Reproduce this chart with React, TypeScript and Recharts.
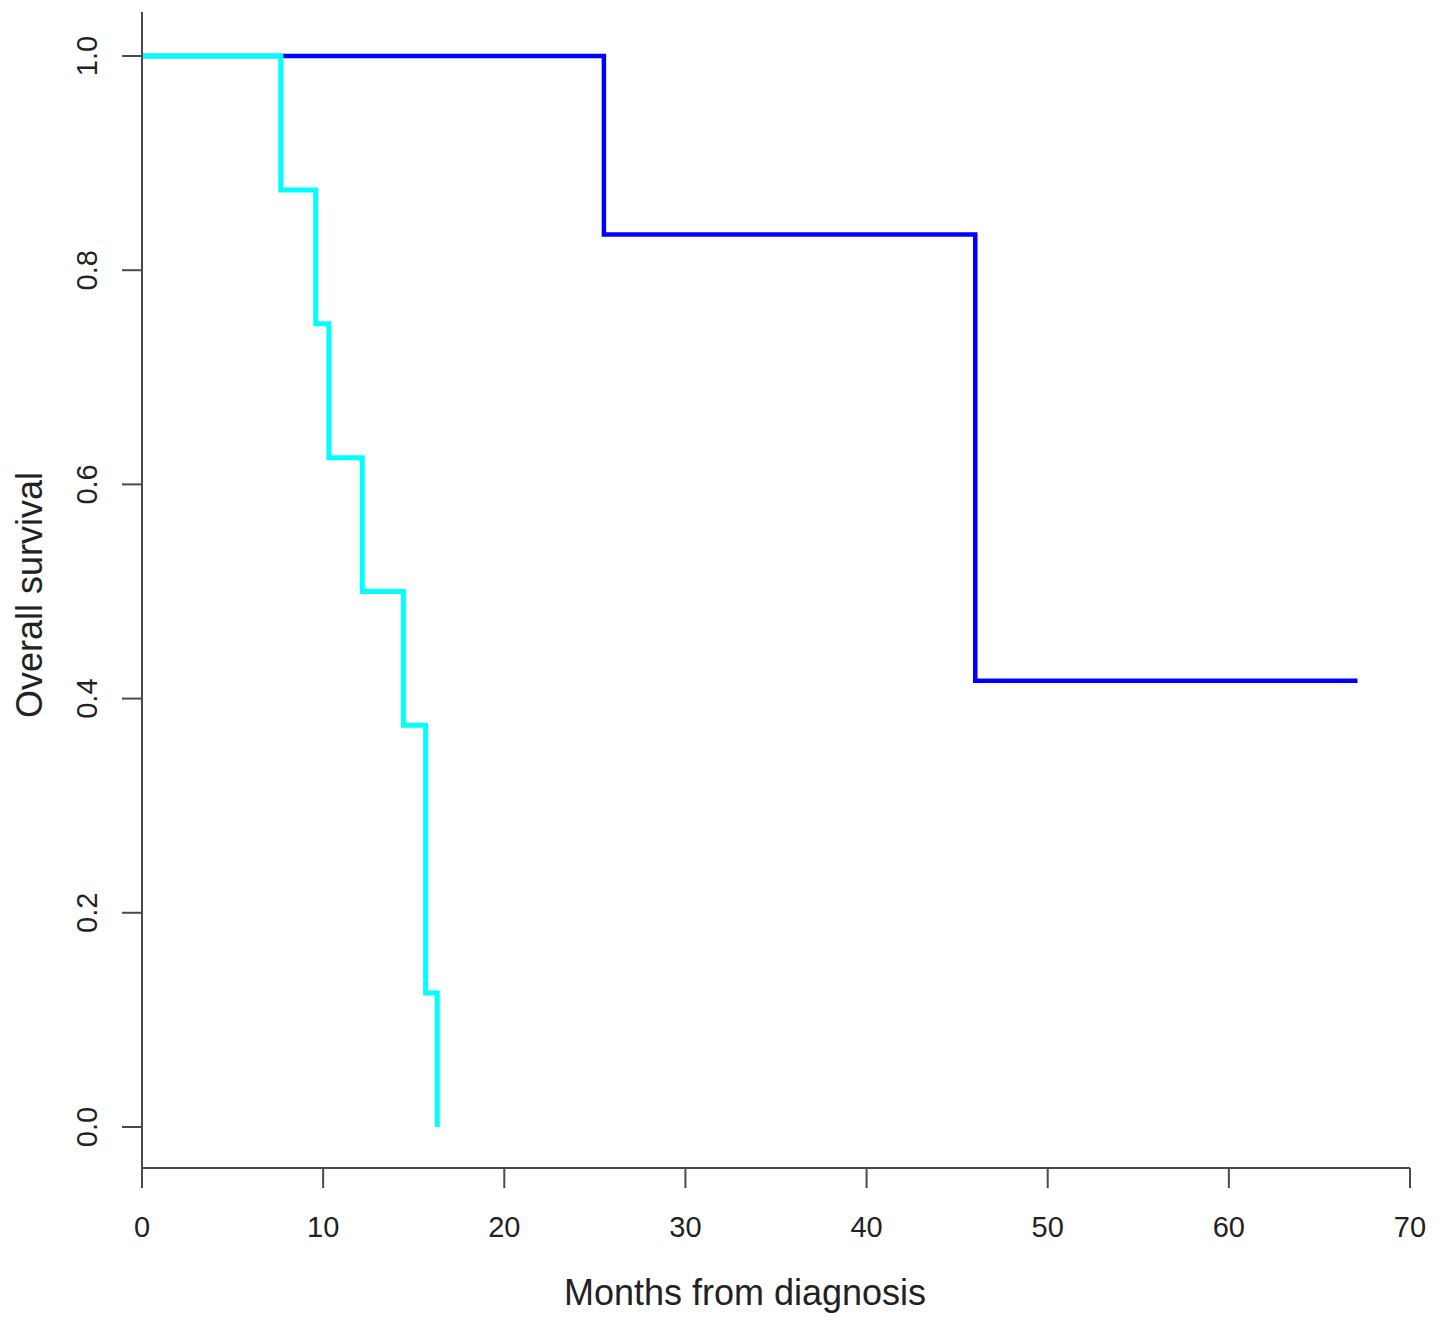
import React from "react";
import { LineChart, Line, XAxis, YAxis, Label } from "recharts";

// Kaplan-Meier style survival curves (two groups)
const blueTimes = [0, 25.5, 46.0, 67.1];
const blueSurv = [1, 0.8333, 0.4167, 0.4167];

const cyanTimes = [0, 7.66, 9.59, 10.32, 12.16, 14.43, 15.66, 16.3];
const cyanSurv = [1, 0.875, 0.75, 0.625, 0.5, 0.375, 0.125, 0];

const xTicks = [0, 10, 20, 30, 40, 50, 60, 70];
const yTicks = [0, 0.2, 0.4, 0.6, 0.8, 1.0];

const blueData = blueTimes.map((t, i) => ({ time: t, surv: blueSurv[i] }));
const cyanData = cyanTimes.map((t, i) => ({ time: t, surv: cyanSurv[i] }));

const FONT = "'Liberation Sans', Arial, Helvetica, sans-serif";
const AXIS = "#4a4a4a";

const XTick = (props: any) => {
  const { x, payload } = props;
  return (
    <text x={x} y={1237} textAnchor="middle" fontFamily={FONT} fontSize={29} fill="#222">
      {payload.value}
    </text>
  );
};

const YTick = (props: any) => {
  const { y, payload } = props;
  const tx = 97;
  return (
    <text
      x={tx}
      y={y}
      transform={`rotate(-90, ${tx}, ${y})`}
      textAnchor="middle"
      fontFamily={FONT}
      fontSize={29}
      fill="#222"
    >
      {Number(payload.value).toFixed(1)}
    </text>
  );
};

export default function App() {
  return (
    <div style={{ position: "absolute", left: 0, top: 0, background: "#fff" }}>
      <LineChart
        width={1441}
        height={1328}
        margin={{ top: 12, right: 31, left: 0, bottom: 0 }}
      >
        <XAxis
          type="number"
          dataKey="time"
          domain={[0, 70]}
          ticks={xTicks}
          height={160}
          axisLine={{ stroke: AXIS, strokeWidth: 2 }}
          tickLine={{ stroke: AXIS, strokeWidth: 2 }}
          tickSize={20}
          tick={<XTick />}
          allowDataOverflow
        >
          <Label
            content={() => (
              <text x={745} y={1305} textAnchor="middle" fontFamily={FONT} fontSize={36} fill="#222">
                Months from diagnosis
              </text>
            )}
          />
        </XAxis>
        <YAxis
          type="number"
          domain={[-0.0383, 1.0411]}
          ticks={yTicks}
          width={142}
          axisLine={{ stroke: AXIS, strokeWidth: 2 }}
          tickLine={{ stroke: AXIS, strokeWidth: 2 }}
          tickSize={20}
          tick={<YTick />}
          allowDataOverflow
        >
          <Label
            content={() => (
              <text
                x={42}
                y={595}
                transform="rotate(-90, 42, 595)"
                textAnchor="middle"
                fontFamily={FONT}
                fontSize={36}
                fill="#222"
              >
                Overall survival
              </text>
            )}
          />
        </YAxis>
        <Line
          data={blueData}
          dataKey="surv"
          type="stepAfter"
          stroke="#0000FF"
          strokeWidth={4.5}
          dot={false}
          activeDot={false}
          isAnimationActive={false}
        />
        <Line
          data={cyanData}
          dataKey="surv"
          type="stepAfter"
          stroke="#00FFFF"
          strokeWidth={5}
          dot={false}
          activeDot={false}
          isAnimationActive={false}
        />
      </LineChart>
    </div>
  );
}
